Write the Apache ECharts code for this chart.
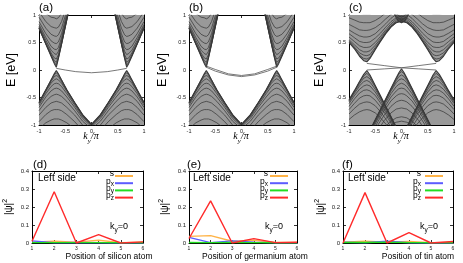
<!DOCTYPE html>
<html><head><meta charset="utf-8">
<script src="https://cdn.jsdelivr.net/npm/echarts/dist/echarts.min.js"></script>
<style>html,body{margin:0;padding:0;background:#fff}#c{width:463px;height:263px}</style>
</head><body><div id="c"></div>
<script>
// ---------- band structure data (panels a, b) ----------
const bandTicks = [-1, -0.5, 0, 0.5, 1];
const kCondL_ab = [-1, -0.87, -0.77, -0.71, -0.67, -0.63, -0.57, -0.47, -0.32];
const kCondR_ab = [1, 0.87, 0.77, 0.71, 0.67, 0.63, 0.57, 0.47, 0.32];
const eCond_ab = [
  [0.76, 0.47, 0.25, 0.12, 0.05, 0.21, 0.47, 0.91, 1.57],
  [0.76, 0.47, 0.26, 0.14, 0.09, 0.22, 0.47, 0.91, 1.57],
  [0.76, 0.48, 0.28, 0.17, 0.14, 0.24, 0.48, 0.92, 1.57],
  [0.78, 0.50, 0.31, 0.22, 0.20, 0.28, 0.50, 0.93, 1.58],
  [0.80, 0.54, 0.36, 0.30, 0.28, 0.34, 0.54, 0.95, 1.59],
  [0.83, 0.59, 0.43, 0.38, 0.37, 0.41, 0.59, 0.97, 1.61],
  [0.88, 0.66, 0.53, 0.49, 0.48, 0.51, 0.66, 1.02, 1.63],
  [0.96, 0.76, 0.65, 0.62, 0.61, 0.64, 0.76, 1.08, 1.68],
  [1.06, 0.88, 0.79, 0.77, 0.76, 0.78, 0.88, 1.17, 1.73],
  [1.19, 1.03, 0.96, 0.95, 0.93, 0.95, 1.03, 1.29, 1.81]
];
const kValL_ab = [-1, -0.87, -0.77, -0.71, -0.67, -0.63, -0.57, -0.47, -0.32, -0.17, 0];
const kValR_ab = [1, 0.87, 0.77, 0.71, 0.67, 0.63, 0.57, 0.47, 0.32, 0.17, 0];
const eVal_ab = [
  [-0.59, -0.36, -0.18, -0.07, -0.01, -0.07, -0.18, -0.36, -0.59, -0.81, -0.99],
  [-0.59, -0.36, -0.18, -0.09, -0.05, -0.09, -0.18, -0.36, -0.59, -0.81, -0.99],
  [-0.60, -0.37, -0.21, -0.12, -0.10, -0.12, -0.21, -0.37, -0.60, -0.82, -1.00],
  [-0.61, -0.39, -0.24, -0.18, -0.16, -0.18, -0.24, -0.39, -0.61, -0.83, -1.00],
  [-0.64, -0.43, -0.30, -0.25, -0.24, -0.25, -0.30, -0.43, -0.64, -0.85, -1.00],
  [-0.68, -0.49, -0.38, -0.34, -0.33, -0.34, -0.38, -0.49, -0.68, -0.88, -1.03],
  [-0.74, -0.57, -0.48, -0.45, -0.44, -0.45, -0.48, -0.57, -0.74, -0.93, -1.07],
  [-0.82, -0.68, -0.60, -0.58, -0.57, -0.58, -0.60, -0.68, -0.82, -1.00],
  [-0.94, -0.81, -0.74, -0.72, -0.72, -0.72, -0.74, -0.81, -0.94, -1.10],
  [-1.07, -0.96, -0.91, -0.89, -0.89, -0.89, -0.91, -0.96, -1.07]
];
const kEdgeA = [-0.67, -0.5, -0.3, 0, 0.3, 0.5, 0.67];
const eEdgeA = [0.03, 0.0, -0.03, -0.05, -0.03, 0.0, 0.03];
const kEdgeB = [-0.67, -0.5, -0.25, 0, 0.25, 0.5, 0.67];
const eEdgeB1 = [0.07, 0.01, -0.07, -0.10, -0.07, 0.01, 0.07];
const eEdgeB2 = [0.05, -0.02, -0.09, -0.12, -0.09, -0.02, 0.05];

// ---------- band structure data (panel c) ----------
const kSideL_c = [-1, -0.9, -0.8, -0.72, -0.66, -0.6, -0.5, -0.4, -0.3, -0.2, -0.1, 0];
const kSideR_c = [1, 0.9, 0.8, 0.72, 0.66, 0.6, 0.5, 0.4, 0.3, 0.2, 0.1, 0];
const eCond_c = [
  [0.50, 0.39, 0.25, 0.17, 0.15, 0.21, 0.37, 0.52, 0.66, 0.78, 0.86, 0.89],
  [0.51, 0.40, 0.27, 0.21, 0.20, 0.23, 0.38, 0.53, 0.67, 0.79, 0.86, 0.89],
  [0.53, 0.42, 0.31, 0.27, 0.26, 0.28, 0.41, 0.54, 0.68, 0.80, 0.87, 0.90],
  [0.55, 0.46, 0.37, 0.33, 0.33, 0.35, 0.45, 0.57, 0.70, 0.81, 0.89, 0.92],
  [0.60, 0.52, 0.44, 0.41, 0.41, 0.42, 0.50, 0.61, 0.73, 0.84, 0.92, 0.94],
  [0.66, 0.59, 0.52, 0.50, 0.50, 0.51, 0.58, 0.67, 0.78, 0.88, 0.95, 0.98],
  [0.73, 0.67, 0.62, 0.60, 0.60, 0.61, 0.66, 0.75, 0.84, 0.94, 1.01, 1.03],
  [0.83, 0.78, 0.73, 0.72, 0.72, 0.73, 0.77, 0.84, 0.93, 1.01, 1.07, 1.10],
  [0.95, 0.91, 0.87, 0.86, 0.86, 0.86, 0.90, 0.96, 1.04, 1.11],
  [1.10, 1.06, 1.03, 1.02, 1.02, 1.02, 1.05, 1.11]
];
const kBlob_c = [-0.15, -0.1, -0.05, 0, 0.05, 0.1, 0.15];
const eBlob_c = [
  [1.05, 0.95, 0.88, 0.86, 0.88, 0.95, 1.05],
  [1.08, 0.99, 0.93, 0.91, 0.93, 0.99, 1.08],
  [1.10, 1.03, 0.98, 0.96, 0.98, 1.03, 1.10]
];
const eValSide_c = [
  [-0.54, -0.38, -0.21, -0.08, -0.01, -0.09, -0.28, -0.47, -0.66, -0.85, -1.04, -1.23],
  [-0.55, -0.39, -0.22, -0.11, -0.06, -0.12, -0.29, -0.48, -0.67, -0.85, -1.04],
  [-0.56, -0.40, -0.25, -0.15, -0.12, -0.16, -0.31, -0.49, -0.67, -0.86, -1.05],
  [-0.58, -0.43, -0.29, -0.21, -0.19, -0.22, -0.35, -0.51, -0.69, -0.88, -1.06],
  [-0.61, -0.47, -0.35, -0.29, -0.27, -0.29, -0.40, -0.55, -0.72, -0.90, -1.08],
  [-0.66, -0.53, -0.42, -0.37, -0.36, -0.38, -0.46, -0.60, -0.76, -0.93, -1.11],
  [-0.72, -0.61, -0.51, -0.47, -0.46, -0.47, -0.55, -0.67, -0.81, -0.97, -1.15],
  [-0.80, -0.70, -0.62, -0.59, -0.58, -0.59, -0.65, -0.76, -0.89, -1.04],
  [-0.90, -0.82, -0.76, -0.73, -0.72, -0.73, -0.78, -0.87, -0.98, -1.10]
];
const kValC_c = [-0.55, -0.45, -0.33, -0.2, -0.1, -0.05, 0, 0.05, 0.1, 0.2, 0.33, 0.45, 0.55];
const eValC_c = [
  [-1.00, -0.81, -0.58, -0.33, -0.14, -0.05, 0.02, -0.05, -0.14, -0.33, -0.58, -0.81, -1.00],
  [-1.00, -0.81, -0.59, -0.34, -0.16, -0.07, -0.03, -0.07, -0.16, -0.34, -0.59, -0.81, -1.00],
  [-1.01, -0.82, -0.60, -0.36, -0.19, -0.12, -0.09, -0.12, -0.19, -0.36, -0.60, -0.82, -1.01],
  [-1.02, -0.84, -0.61, -0.38, -0.23, -0.18, -0.16, -0.18, -0.23, -0.38, -0.61, -0.84, -1.02],
  [-1.04, -0.86, -0.64, -0.43, -0.30, -0.26, -0.24, -0.26, -0.30, -0.43, -0.64, -0.86, -1.04],
  [-1.07, -0.89, -0.69, -0.49, -0.38, -0.34, -0.33, -0.34, -0.38, -0.49, -0.69, -0.89, -1.07],
  [-1.12, -0.94, -0.74, -0.56, -0.47, -0.44, -0.43, -0.44, -0.47, -0.56, -0.74, -0.94, -1.12],
  [-1.20, -1.00, -0.82, -0.66, -0.58, -0.56, -0.55, -0.56, -0.58, -0.66, -0.82, -1.00, -1.20],
  [-1.30, -1.10, -0.92, -0.78, -0.71, -0.70, -0.69, -0.70, -0.71, -0.78, -0.92, -1.10, -1.30],
  [-1.40, -1.20, -1.05, -0.93, -0.87, -0.86, -0.85, -0.86, -0.87, -0.93, -1.05, -1.20, -1.40],
  [-1.50, -1.30, -1.12, -1.00, -0.95, -0.94, -0.93, -0.94, -0.95, -1.00, -1.12, -1.30, -1.50]
];
const kEdgeC = [-0.66, -0.33, 0, 0.33, 0.66];
const eEdgeC1 = [0.12, 0.08, 0.04, 0.08, 0.12];
const eEdgeC2 = [0.0, 0.02, 0.04, 0.02, 0.0];
// energy limits used to close the shaded continua outside the frame
const capTop = 1.8;
const capBottom = -1.8;

// ---------- orbital weights (panels d, e, f) ----------
const atomPos = [1, 2, 3, 4, 5, 6];
const posTicks = [1, 2, 3, 4, 5, 6];
const psiTicks = [0, 0.1, 0.2, 0.3, 0.4];
const orbitalNames = ['s', 'px', 'py', 'pz'];
const si_s  = [0.005, 0.010, 0.005, 0.015, 0.002, 0.005];
const si_px = [0.012, 0.001, 0.003, 0.001, 0.000, 0.000];
const si_py = [0.002, 0.002, 0.002, 0.002, 0.001, 0.001];
const si_pz = [0.010, 0.285, 0.000, 0.047, 0.000, 0.006];
const ge_s  = [0.037, 0.041, 0.010, 0.015, 0.003, 0.003];
const ge_px = [0.031, 0.002, 0.012, 0.005, 0.001, 0.001];
const ge_py = [0.003, 0.002, 0.003, 0.002, 0.001, 0.001];
const ge_pz = [0.025, 0.234, 0.000, 0.024, 0.002, 0.004];
const sn_s  = [0.005, 0.010, 0.005, 0.008, 0.002, 0.003];
const sn_px = [0.005, 0.001, 0.010, 0.001, 0.000, 0.000];
const sn_py = [0.003, 0.003, 0.005, 0.002, 0.001, 0.001];
const sn_pz = [0.000, 0.280, 0.000, 0.057, 0.000, 0.008];

const panelLetters = ['(a)', '(b)', '(c)', '(d)', '(e)', '(f)'];
const atomNames = ['silicon', 'germanium', 'tin'];

// ---------- styling ----------
const orbColors = {s: '#ffb347', px: '#5c5cff', py: '#22dd22', pz: '#ff2b2b'};
const bandColor = '#3a3a3a';
const fillColor = '#999999';
const FONT = 'Liberation Sans, Arial, sans-serif';

const grids = [
  {left: 39, top: 15, width: 105, height: 110},
  {left: 189, top: 15, width: 105, height: 110},
  {left: 349, top: 15, width: 105, height: 110},
  {left: 32, top: 171, width: 111, height: 72},
  {left: 189, top: 171, width: 108, height: 72},
  {left: 343, top: 171, width: 110, height: 72}
].map(g => Object.assign({containLabel: false, outerBoundsMode: 'none'}, g));

const xAxes = [], yAxes = [];
function addAxes(gi, xr, yr, xfs, yfs) {
  const line = {show: true, onZero: false, lineStyle: {color: '#000', width: 1}};
  const tick = {show: true, inside: true, length: 3, lineStyle: {color: '#000', width: 0.8}};
  xAxes.push({type: 'value', gridIndex: gi, position: 'bottom', min: xr[0], max: xr[1], interval: xr[2],
    axisLine: line, axisTick: tick, splitLine: {show: false},
    axisLabel: {fontSize: xfs, color: '#222', margin: 3, fontFamily: FONT}});
  xAxes.push({type: 'value', gridIndex: gi, position: 'top', min: xr[0], max: xr[1], interval: xr[2],
    axisLine: line, axisTick: tick, splitLine: {show: false}, axisLabel: {show: false}});
  yAxes.push({type: 'value', gridIndex: gi, position: 'left', min: yr[0], max: yr[1], interval: yr[2],
    axisLine: line, axisTick: tick, splitLine: {show: false},
    axisLabel: {fontSize: yfs, color: '#222', margin: 3, fontFamily: FONT}});
  yAxes.push({type: 'value', gridIndex: gi, position: 'right', min: yr[0], max: yr[1], interval: yr[2],
    axisLine: line, axisTick: tick, splitLine: {show: false}, axisLabel: {show: false}});
}
for (let i = 0; i < 3; i++) addAxes(i, [bandTicks[0], bandTicks[4], 0.5], [bandTicks[0], bandTicks[4], 0.5], 5.5, 5.5);
for (let i = 3; i < 6; i++) addAxes(i, [posTicks[0], posTicks[5], 1], [psiTicks[0], psiTicks[4], 0.1], 5, 6);

const series = [];
function pairs(kGrid, e) { return e.map((v, i) => [kGrid[i], v]); }
function fill(gi, pts, color) {
  series.push({
    type: 'custom', xAxisIndex: gi * 2, yAxisIndex: gi * 2, silent: true, animation: false, clip: true, z: 1,
    data: pts,
    renderItem: (params, api) => {
      if (params.dataIndex !== 0) return null;
      return {type: 'polygon', shape: {points: pts.map(p => api.coord(p))}, style: {fill: color || fillColor}};
    }
  });
}
function bands(gi, kGrid, arrs, color, width) {
  arrs.forEach((e, n) => series.push({
    type: 'line', xAxisIndex: gi * 2, yAxisIndex: gi * 2, symbol: 'none', silent: true,
    animation: false, clip: true, z: 3,
    data: pairs(kGrid, e),
    lineStyle: {color: color || bandColor, width: width || (n === 0 ? 1.1 : 0.75)}
  }));
}
// panel a and b bulk
[0, 1].forEach(gi => {
  [kCondL_ab, kCondR_ab].forEach(kg => {
    const p = pairs(kg, eCond_ab[0]);
    fill(gi, p.concat([[kg[kg.length - 1], capTop], [kg[0], capTop]]));
  });
  [kValL_ab, kValR_ab].forEach(kg => {
    const p = pairs(kg, eVal_ab[0]);
    fill(gi, p.concat([[kg[kg.length - 1], capBottom], [kg[0], capBottom]]));
  });
  bands(gi, kCondL_ab, eCond_ab);
  bands(gi, kCondR_ab, eCond_ab);
  bands(gi, kValL_ab, eVal_ab);
  bands(gi, kValR_ab, eVal_ab);
});
bands(0, kEdgeA, [eEdgeA], '#555', 0.8);
bands(1, kEdgeB, [eEdgeB1, eEdgeB2], '#555', 0.8);
// panel c
fill(2, [[kSideL_c[0], capTop]].concat(pairs(kSideL_c, eCond_c[0]), pairs(kSideR_c, eCond_c[0]).reverse(), [[kSideR_c[0], capTop]]));
fill(2, pairs(kBlob_c, eBlob_c[0]).concat([[kBlob_c[6], capTop], [kBlob_c[0], capTop]]), '#606060');
[kSideL_c, kSideR_c].forEach(kg => {
  fill(2, pairs(kg, eValSide_c[0]).concat([[kg[kg.length - 1], capBottom], [kg[0], capBottom]]));
});
fill(2, pairs(kValC_c, eValC_c[0]).concat([[kValC_c[12], capBottom], [kValC_c[0], capBottom]]));
bands(2, kSideL_c, eCond_c);
bands(2, kSideR_c, eCond_c);
bands(2, kBlob_c, eBlob_c);
bands(2, kSideL_c, eValSide_c);
bands(2, kSideR_c, eValSide_c);
bands(2, kValC_c, eValC_c);
bands(2, kEdgeC, [eEdgeC1, eEdgeC2], '#555', 0.8);

const orbData = [
  [si_s, si_px, si_py, si_pz],
  [ge_s, ge_px, ge_py, ge_pz],
  [sn_s, sn_px, sn_py, sn_pz]
];
orbData.forEach((set, p) => {
  set.forEach((vals, j) => series.push({
    name: orbitalNames[j], type: 'line', xAxisIndex: (p + 3) * 2, yAxisIndex: (p + 3) * 2,
    symbol: 'none', animation: false, silent: true,
    data: vals.map((v, i) => [atomPos[i], v]),
    lineStyle: {color: orbColors[orbitalNames[j]], width: 1.4}
  }));
});

// ---------- texts ----------
const graphic = [];
function txt(x, y, text, font) {
  graphic.push({type: 'text', x, y, silent: true,
    style: {text, fill: '#000', font: font || ('11px ' + FONT), textAlign: 'left', textVerticalAlign: 'top'}});
}
const letterPos = [[39, 2], [189, 2], [349, 2], [33, 159], [187, 159], [342, 159]];
panelLetters.forEach((t, i) => txt(letterPos[i][0], letterPos[i][1], t, '11.5px ' + FONT));

// E [eV]
[[12, 70], [163, 70], [320, 70]].forEach(p => graphic.push({type: 'text', x: p[0], y: p[1], rotation: Math.PI / 2, silent: true,
  style: {text: 'E [eV]', font: '12.5px ' + FONT, fill: '#000', textAlign: 'center', textVerticalAlign: 'middle'}}));
// k_y / pi
const kyRich = {
  k: {fontStyle: 'italic', fontSize: 10, fontFamily: 'Liberation Serif, serif', padding: [0, 0, 3, 0], verticalAlign: 'top'},
  s: {fontStyle: 'italic', fontSize: 7, fontFamily: 'Liberation Serif, serif', verticalAlign: 'bottom'},
  n: {fontStyle: 'italic', fontSize: 10, fontFamily: 'Liberation Serif, serif', padding: [0, 0, 3, 0], verticalAlign: 'top'}
};
[91, 241, 401].forEach(x => graphic.push({type: 'text', x, y: 138, silent: true,
  style: {text: '{k|k}{s|y}{n|/π}', rich: kyRich, fill: '#000', textAlign: 'center', textVerticalAlign: 'middle'}}));

// |psi|^2
const psiRich = {
  a: {fontSize: 10, fontFamily: FONT, padding: [3, 0, 0, 0], verticalAlign: 'bottom'},
  b: {fontSize: 7, fontFamily: FONT, verticalAlign: 'top'}
};
[[8, 207], [164, 207], [320, 207]].forEach(p => graphic.push({type: 'text', x: p[0], y: p[1], rotation: Math.PI / 2, silent: true,
  style: {text: '{a||ψ|}{b|2}', rich: psiRich, fill: '#000', textAlign: 'center', textVerticalAlign: 'middle'}}));

// Position labels
[109, 255, 418].forEach((x, i) => graphic.push({type: 'text', x, y: 257, silent: true,
  style: {text: 'Position of ' + atomNames[i] + ' atom', font: '8.5px ' + FONT, fill: '#000', textAlign: 'center', textVerticalAlign: 'middle'}}));

// Left side
[38, 193, 348].forEach(x => txt(x, 173, 'Left side', '10px ' + FONT));
// k_y=0
const ky0Rich = {
  k: {fontSize: 9, fontFamily: FONT, padding: [0, 0, 3, 0], verticalAlign: 'top'},
  s: {fontSize: 6.5, fontFamily: FONT, verticalAlign: 'bottom'},
  n: {fontSize: 9, fontFamily: FONT, padding: [0, 0, 3, 0], verticalAlign: 'top'}
};
[110, 265, 420].forEach(x => graphic.push({type: 'text', x, y: 228, silent: true,
  style: {text: '{k|k}{s|y}{n|=0}', rich: ky0Rich, fill: '#000', textAlign: 'left', textVerticalAlign: 'middle'}}));

// legends
const legRich = {
  p: {fontSize: 8.5, fontFamily: FONT, padding: [0, 0, 2, 0], verticalAlign: 'top'},
  x: {fontSize: 6.5, fontFamily: FONT, verticalAlign: 'bottom'}
};
const legLabels = ['{p|s}', '{p|p}{x|x}', '{p|p}{x|y}', '{p|p}{x|z}'];
[[114, 115, 133], [268, 270, 288], [421, 425, 443]].forEach(lp => {
  orbitalNames.forEach((nm, j) => {
    const y = 176 + j * 7.2;
    graphic.push({type: 'text', x: lp[0], y: y - 1, silent: true,
      style: {text: legLabels[j], rich: legRich, fill: '#000', textAlign: 'right', textVerticalAlign: 'middle'}});
    graphic.push({type: 'line', silent: true, shape: {x1: lp[1], y1: y, x2: lp[2], y2: y},
      style: {stroke: orbColors[nm], lineWidth: 2}});
  });
});

const chart = echarts.init(document.getElementById('c'), null, {renderer: 'canvas', width: 463, height: 263});
chart.setOption({
  animation: false,
  backgroundColor: '#fff',
  grid: grids,
  xAxis: xAxes,
  yAxis: yAxes,
  series: series,
  graphic: graphic
});
</script>
</body></html>
